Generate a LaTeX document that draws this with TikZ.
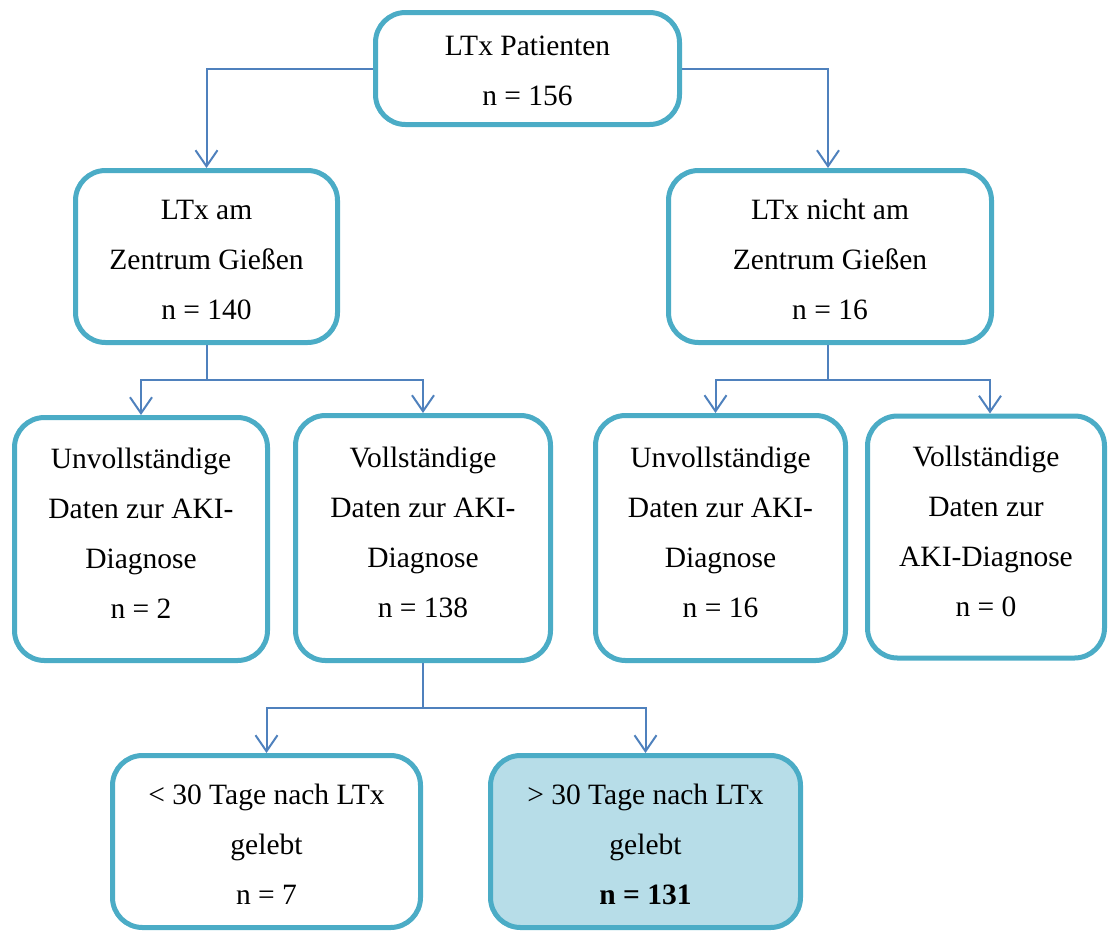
\documentclass[tikz,border=0pt]{standalone}
\usepackage{fontspec}
\setmainfont{Liberation Serif}
\usetikzlibrary{arrows.meta}
\definecolor{boxblue}{HTML}{4BACC6}
\definecolor{linkblue}{HTML}{4F81BD}
\definecolor{fillblue}{HTML}{B7DDE8}
\begin{document}
\begin{tikzpicture}[x=1pt,y=-1pt,
  box/.style={draw=boxblue, line width=5pt, rounded corners=30pt, fill=white,
    align=center, inner sep=0pt, font=\fontsize{29.5}{50}\selectfont},
  txt/.style={align=center, inner sep=0pt, font=\fontsize{29.5}{50}\selectfont},
  link/.style={draw=linkblue, line width=2pt,
    -{Straight Barb[length=16pt,width=22pt,line width=2pt]}},
  plain/.style={draw=linkblue, line width=2pt}]
\useasboundingbox (0,0) rectangle (1109,930);
\node[box, minimum width=304pt, minimum height=112pt] (top) at (527.5,68.5) {};
\node[txt] (topt) at ([yshift=-2pt]top.center) {LTx Patienten\\n = 156};
\node[box, minimum width=262pt, minimum height=172pt] (L) at (206.5,256.5) {};
\node[txt] (Lt) at ([yshift=-3pt]L.center) {LTx am\\Zentrum Gießen\\n = 140};
\node[box, minimum width=323pt, minimum height=172pt] (R) at (830,256.5) {};
\node[txt] (Rt) at ([yshift=-3pt]R.center) {LTx nicht am\\Zentrum Gießen\\n = 16};
\node[box, minimum width=253pt, minimum height=243pt] (b1) at (141,539) {};
\node[txt] (b1t) at ([yshift=6pt]b1.center) {Unvollständige\\Daten zur AKI-\\Diagnose\\n = 2};
\node[box, minimum width=255pt, minimum height=245pt] (b2) at (423,538) {};
\node[txt] (b2t) at ([yshift=6pt]b2.center) {Vollständige\\Daten zur AKI-\\Diagnose\\n = 138};
\node[box, minimum width=250pt, minimum height=245pt] (b3) at (720.5,538) {};
\node[txt] (b3t) at ([yshift=6pt]b3.center) {Unvollständige\\Daten zur AKI-\\Diagnose\\n = 16};
\node[box, minimum width=237pt, minimum height=242pt] (b4) at (986,537) {};
\node[txt] (b4t) at ([yshift=6pt]b4.center) {Vollständige\\Daten zur\\AKI-Diagnose\\n = 0};
\node[box, minimum width=308pt, minimum height=172pt] (b5) at (266.5,841.5) {};
\node[txt] (b5t) at ([yshift=-3pt]b5.center) {< 30 Tage nach LTx\\gelebt\\n = 7};
\node[box, fill=fillblue, minimum width=310pt, minimum height=172pt] (b6) at (645.5,841.5) {};
\node[txt] (b6t) at ([yshift=-3pt]b6.center) {> 30 Tage nach LTx\\gelebt\\\textbf{n = 131}};
% connectors
\draw[link] (top.west) -| (L.north);
\draw[link] (top.east) -| ([xshift=-2pt]R.north);
\coordinate (jL) at (206.5,380);
\draw[plain] (L.south) -- (jL);
\draw[link] (jL) -| (b1.north);
\draw[link] (jL) -| (b2.north);
\coordinate (jR) at (828,380);
\draw[plain] ([xshift=-2pt]R.south) -- (jR);
\draw[link] (jR) -| ([xshift=-5pt]b3.north);
\draw[link] (jR) -| ([xshift=4pt]b4.north);
\coordinate (jB) at (423,708);
\draw[plain] (b2.south) -- (jB);
\draw[link] (jB) -| (b5.north);
\draw[link] (jB) -| (b6.north);
\end{tikzpicture}
\end{document}
